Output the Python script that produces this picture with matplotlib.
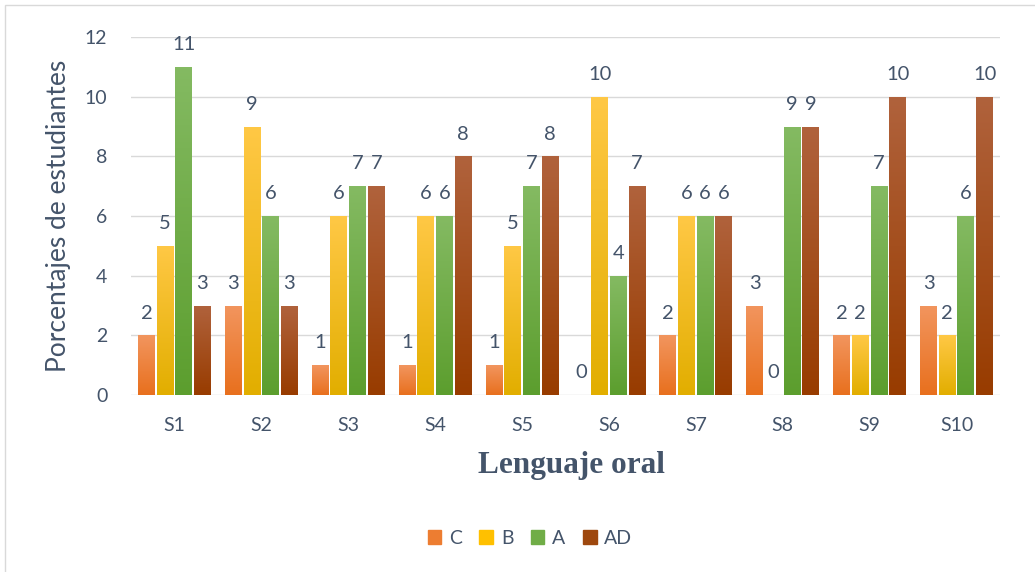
import numpy as np
import matplotlib
matplotlib.use("Agg")
import matplotlib.pyplot as plt
from matplotlib.colors import LinearSegmentedColormap
from matplotlib.patches import Rectangle

categories = ["S1", "S2", "S3", "S4", "S5", "S6", "S7", "S8", "S9", "S10"]
series_names = ["C", "B", "A", "AD"]
C = [2, 3, 1, 1, 1, 0, 2, 3, 2, 3]
B = [5, 9, 6, 6, 5, 10, 6, 0, 2, 2]
A = [11, 6, 7, 6, 7, 4, 6, 9, 7, 6]
AD = [3, 3, 7, 8, 8, 7, 6, 9, 10, 10]
series = [C, B, A, AD]
yticks = [0, 2, 4, 6, 8, 10, 12]

top_cols = ["#F2955E", "#FFC845", "#84BA62", "#B0623C"]
bot_cols = ["#E8701E", "#E2AE00", "#5C9E2E", "#983C00"]
legend_cols = ["#ED7D31", "#FFC000", "#70AD47", "#9E480E"]
text_col = "#44546A"

plt.rcParams['font.family'] = ['Lato', 'DejaVu Sans']

fig = plt.figure(figsize=(10.35, 5.72), dpi=100)
ax = fig.add_axes([131/1035, 1-395/572, 869/1035, (395-37)/572])

x = np.arange(len(categories))
w = 0.195
step = 0.215
for i, (vals, name) in enumerate(zip(series, series_names)):
    xs = x + (i - 1.5) * step
    bars = ax.bar(xs, vals, width=w, color=legend_cols[i], label=name, zorder=3)
    cmap = LinearSegmentedColormap.from_list("g%d" % i, [bot_cols[i], top_cols[i]])
    for b, v in zip(bars, vals):
        b.set_alpha(0.0)
        if v > 0:
            grad = np.linspace(0, 1, 100).reshape(-1, 1)
            bx = b.get_x()
            im = ax.imshow(grad, cmap=cmap, origin="lower", aspect="auto",
                           extent=[bx, bx + w, 0, v], zorder=3)
            rect = Rectangle((bx, 0), w, v, transform=ax.transData, facecolor="none", edgecolor="none")
            ax.add_patch(rect)
            im.set_clip_path(rect)
        ax.annotate(str(v), (b.get_x() + w / 2, v), xytext=(0, 12), textcoords="offset points",
                    ha="center", va="baseline", fontsize=14.5, color=text_col)

ax.set_xlim(-0.5, len(categories) - 0.5)
ax.set_ylim(0, 12)
ax.set_yticks(yticks)
ax.set_xticks(x)
ax.set_xticklabels(categories)
ax.tick_params(axis="both", length=0, labelsize=14, colors=text_col)
ax.tick_params(axis="x", pad=16)
ax.tick_params(axis="y", pad=17)
ax.grid(axis="y", color="#D9D9D9", linewidth=1, zorder=0)
ax.set_axisbelow(True)
for s in ax.spines.values():
    s.set_visible(False)
ax.set_ylabel("Porcentajes de estudiantes", fontsize=19, color=text_col, labelpad=10)
fig.text(571/1035, 1-466/572, "Lenguaje oral", fontsize=22.5, fontweight="bold",
         family="Liberation Serif", color="#44546A", ha="center", va="center")

handles = [Rectangle((0, 0), 1, 1, color=c) for c in legend_cols]
fig.legend(handles, series_names, loc="center", bbox_to_anchor=(530/1035, 1-538/572), ncol=4,
           frameon=False, fontsize=14, labelcolor=text_col, handlelength=0.7, handleheight=0.7,
           handletextpad=0.4, columnspacing=0.9)

border = Rectangle((5/1035, -0.1), 1.2, 1 - 5/572 + 0.1, transform=fig.transFigure,
                   fill=False, edgecolor="#D9D9D9", linewidth=1)
fig.patches.append(border)

fig.savefig("out.png", dpi=100)
